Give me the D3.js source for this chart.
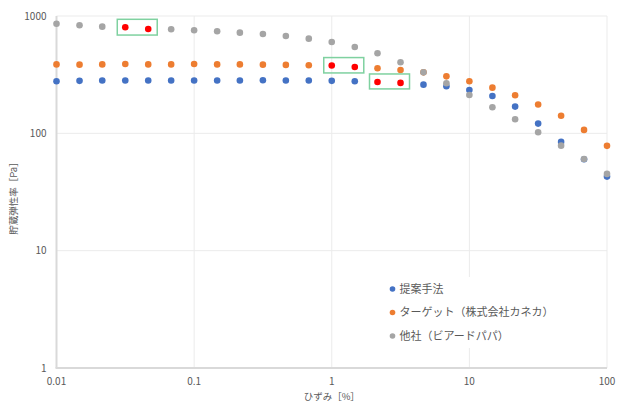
<!DOCTYPE html>
<html>
<head>
<meta charset="utf-8">
<script src="https://cdn.jsdelivr.net/npm/d3@7"></script>
<style>
  body { margin: 0; background: #fff; }
  text { font-family: "Noto Sans CJK JP", "Noto Sans", sans-serif; fill: #595959; }
</style>
</head>
<body>
<svg id="chart" width="617" height="403"></svg>
<script>
// strain [%]
const strain = [0.01, 0.0147, 0.0215, 0.0316, 0.0464, 0.0681, 0.1, 0.147, 0.215, 0.316, 0.464, 0.681,
                1, 1.47, 2.15, 3.16, 4.64, 6.81, 10, 14.7, 21.5, 31.6, 46.4, 68.1, 100];

// storage modulus [Pa]
const proposed = [278, 280, 282, 282, 282, 282, 282, 282, 282, 283, 282, 282,
                  280, 278, 274, 269, 260, 252, 234, 208, 169, 121, 84.5, 60.2, 42.8];
const target = [387, 385, 387, 390, 387, 387, 390, 387, 387, 385, 383, 380,
                378, 368, 359, 347, 331, 306, 278, 245, 211, 176, 141, 107, 78.2];
const other = [860, 833, 811, 801, 774, 771, 755, 741, 721, 703, 676, 641,
               601, 545, 481, 403, 331, 267, 212, 167, 132, 102, 78.5, 60.5, 45.1];

const seriesNames = ["提案手法", "ターゲット（株式会社カネカ）", "他社（ビアードパパ）"];
const seriesColors = ["#4472c4", "#ed7d31", "#a5a5a5"];
// highlighted points (series index, point indices)
const highlights = [[2, [3, 4]], [1, [12, 13]], [0, [14, 15]]];

const xTicks = [0.01, 0.1, 1, 10, 100];
const yTicks = [1, 10, 100, 1000];

const svg = d3.select("#chart");
const mLeft = 56.5, mRight = 607, mTop = 16, mBottom = 368;

const x = d3.scaleLog().domain([0.01, 100]).range([mLeft, mRight]);
const y = d3.scaleLog().domain([1, 1000]).range([mBottom, mTop]);

// gridlines
svg.append("g").selectAll("line").data(yTicks.slice(1)).join("line")
  .attr("x1", mLeft).attr("x2", mRight)
  .attr("y1", d => y(d)).attr("y2", d => y(d))
  .attr("stroke", "#ebebeb").attr("stroke-width", 1);
svg.append("g").selectAll("line").data(xTicks.slice(1)).join("line")
  .attr("x1", d => x(d)).attr("x2", d => x(d))
  .attr("y1", mTop).attr("y2", mBottom)
  .attr("stroke", "#ebebeb").attr("stroke-width", 1);

// axis lines
svg.append("line").attr("x1", mLeft).attr("x2", mLeft).attr("y1", mTop).attr("y2", mBottom)
  .attr("stroke", "#d9d9d9").attr("stroke-width", 2);
svg.append("line").attr("x1", mLeft - 1).attr("x2", mRight).attr("y1", mBottom).attr("y2", mBottom)
  .attr("stroke", "#d9d9d9").attr("stroke-width", 2);

// tick labels
svg.append("g").selectAll("text").data(yTicks).join("text")
  .attr("x", mLeft - 10).attr("y", d => y(d)).attr("dy", "0.35em")
  .attr("text-anchor", "end").attr("font-size", 10)
  .text(d => d);
svg.append("g").selectAll("text").data(xTicks).join("text")
  .attr("x", d => x(d)).attr("y", mBottom + 17)
  .attr("text-anchor", "middle").attr("font-size", 10)
  .text(d => d);

// axis titles
svg.append("text")
  .attr("x", x(1)).attr("y", 400)
  .attr("text-anchor", "middle").attr("font-size", 9.5)
  .text("ひずみ［%］");
svg.append("text")
  .attr("transform", `translate(17,196) rotate(-90)`)
  .attr("text-anchor", "middle").attr("font-size", 9.5)
  .text("貯蔵弾性率［Pa］");

// legend background hides gridlines
svg.append("rect").attr("x", 384).attr("y", 277).attr("width", 178).attr("height", 71).attr("fill", "#fff");

// points (series order as in the original: gray ends up on top)
const allSeries = [proposed, target, other];
[0, 1, 2].forEach(si => {
  const hl = highlights.find(h => h[0] === si);
  svg.append("g").selectAll("circle").data(allSeries[si]).join("circle")
    .attr("cx", (d, i) => x(strain[i]))
    .attr("cy", d => y(d))
    .attr("r", 3.3)
    .attr("fill", (d, i) => hl && hl[1].includes(i) ? "#ff0000" : seriesColors[si]);
});

// green highlight boxes
highlights.forEach(([si, idx]) => {
  const xs = idx.map(i => x(strain[i]));
  const ys = idx.map(i => y(allSeries[si][i]));
  const x0 = d3.min(xs) - 8, x1 = d3.max(xs) + 9;
  const y0 = d3.min(ys) - 8, y1 = d3.max(ys) + 6;
  svg.append("rect")
    .attr("x", x0).attr("y", y0).attr("width", x1 - x0).attr("height", y1 - y0)
    .attr("fill", "none").attr("stroke", "#7fd1a0").attr("stroke-width", 1.5);
});

// legend
const legend = svg.append("g").selectAll("g").data(seriesNames).join("g")
  .attr("transform", (d, i) => `translate(392.5,${289 + i * 23.5})`);
legend.append("circle").attr("r", 2.8).attr("fill", (d, i) => seriesColors[i]);
legend.append("text").attr("x", 7).attr("dy", "0.35em").attr("font-size", 11).text(d => d);
</script>
</body>
</html>
